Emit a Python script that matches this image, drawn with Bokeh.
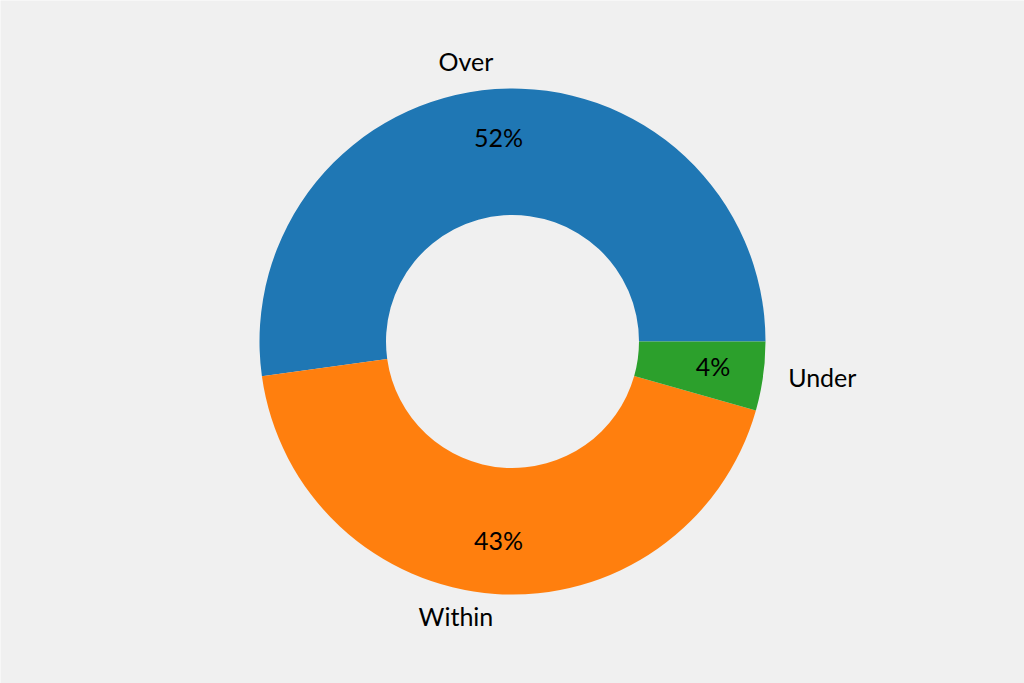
import math
from bokeh.plotting import figure
from bokeh.models import Range1d, ColumnDataSource
from bokeh.core.properties import value
from bokeh.embed import file_html
from bokeh.resources import INLINE

categories = ["Over", "Within", "Under"]
shares = [52.2, 43.4, 4.4]
pct_labels = ["52%", "43%", "4%"]
colors = ["#1f77b4", "#ff7f0e", "#2ca02c"]

W, H = 1024, 683
scale = 253.0          # pixels per data unit (outer radius = 1)
cx_px, cy_px = 512, 341  # centre in plot pixels (from top-left)

p = figure(width=W, height=H, output_backend="svg", toolbar_location=None,
           x_range=Range1d(-cx_px / scale, (W - cx_px) / scale),
           y_range=Range1d(-(H - cy_px) / scale, cy_px / scale),
           min_border=0, background_fill_color="#f0f0f0",
           border_fill_color="#f0f0f0", outline_line_color=None)
p.axis.visible = False
p.grid.visible = False

total = sum(shares)
starts, ends, mids = [], [], []
acc = 0.0
for s in shares:
    a0 = acc / total * 2 * math.pi
    acc += s
    a1 = acc / total * 2 * math.pi
    starts.append(a0)
    ends.append(a1)
    mids.append((a0 + a1) / 2)

src = ColumnDataSource(dict(start=starts, end=ends, color=colors))
p.annular_wedge(x=0, y=0, inner_radius=0.5, outer_radius=1.0,
                start_angle="start", end_angle="end", fill_color="color",
                line_color=None, source=src)

font = value("Lato")
lx = [1.1 * math.cos(m) for m in mids]
ly = [1.1 * math.sin(m) for m in mids]
align = ["left" if x > 0 else "right" for x in lx]
lab_src = ColumnDataSource(dict(x=lx, y=ly, t=categories, a=align))
p.text(x="x", y="y", text="t", text_align="a", text_baseline="middle",
       text_font=font, text_font_size="25px", text_color="#000000",
       y_offset=-3, source=lab_src)

px = [0.8 * math.cos(m) for m in mids]
py = [0.8 * math.sin(m) for m in mids]
pct_src = ColumnDataSource(dict(x=px, y=py, t=pct_labels))
p.text(x="x", y="y", text="t", text_align="center", text_baseline="middle",
       text_font=font, text_font_size="25px", text_color="#000000",
       y_offset=-3, source=pct_src)

html = file_html(p, INLINE)
html = html.replace("<body>", '<body style="background:#f0f0f0;">', 1)
open("out.html", "w").write(html)
